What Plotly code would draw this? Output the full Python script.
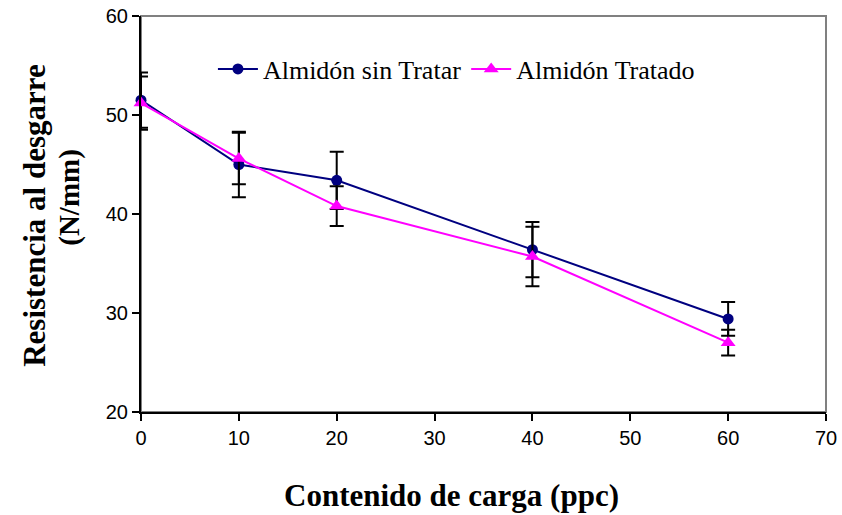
import plotly.graph_objects as go

# Filler content (ppc)
carga = [0, 10, 20, 40, 60]

# Tear resistance (N/mm) and standard deviations
sin_tratar = [51.5, 45.0, 43.4, 36.4, 29.4]
sin_tratar_err = [2.8, 3.3, 2.9, 2.8, 1.7]
tratado = [51.2, 45.6, 40.8, 35.7, 27.0]
tratado_err = [2.7, 2.6, 2.0, 3.0, 1.3]

x_ticks = [0, 10, 20, 30, 40, 50, 60, 70]
y_ticks = [20, 30, 40, 50, 60]

serif = "Liberation Serif, Times New Roman, serif"
sans = "Liberation Sans, Arial, sans-serif"

fig = go.Figure()

fig.add_trace(go.Scatter(
    x=carga, y=sin_tratar, name="Almidón sin Tratar", mode="lines+markers",
    line=dict(color="#000080", width=2),
    marker=dict(symbol="circle", size=11, color="#000080"),
    error_y=dict(type="data", array=sin_tratar_err, visible=True,
                 color="black", thickness=2, width=7),
    cliponaxis=False,
))
fig.add_trace(go.Scatter(
    x=carga, y=tratado, name="Almidón Tratado", mode="lines+markers",
    line=dict(color="#FF00FF", width=2),
    marker=dict(symbol="triangle-up", size=13, color="#FF00FF"),
    error_y=dict(type="data", array=tratado_err, visible=True,
                 color="black", thickness=2, width=7),
    cliponaxis=False,
))

# grey frame around the plot area (top and right edges)
fig.add_shape(type="rect", xref="paper", yref="paper", x0=0, x1=1, y0=0, y1=1,
              line=dict(color="#808080", width=2), layer="below")

fig.update_layout(
    width=842, height=515,
    margin=dict(l=141, r=16, t=16, b=103, autoexpand=False),
    paper_bgcolor="white", plot_bgcolor="white",
    showlegend=True,
    legend=dict(orientation="h", x=0.105, xanchor="left", y=0.866, yanchor="middle",
                font=dict(family=serif, size=26, color="black"),
                bgcolor="rgba(0,0,0,0)", itemwidth=40),
    xaxis=dict(range=[0, 70], tickvals=x_ticks, showgrid=False, zeroline=False,
               automargin=False,
               showline=True, linecolor="black", linewidth=2,
               ticks="outside", ticklen=7, tickwidth=2, tickcolor="black",
               tickfont=dict(family=sans, size=20, color="black")),
    yaxis=dict(range=[20, 60], tickvals=y_ticks, showgrid=False, zeroline=False,
               automargin=False,
               showline=True, linecolor="black", linewidth=2,
               ticks="outside", ticklen=7, tickwidth=2, tickcolor="black",
               tickfont=dict(family=sans, size=20, color="black")),
    annotations=[
        dict(text="<b>Contenido de carga (ppc)</b>", xref="paper", yref="paper",
             x=0.454, y=-0.212, xanchor="center", yanchor="middle", showarrow=False,
             font=dict(family=serif, size=31, color="black")),
        dict(text="<b>Resistencia al desgarre</b>", xref="paper", yref="paper",
             x=-0.155, y=0.495, xanchor="center", yanchor="middle", showarrow=False,
             textangle=-90, font=dict(family=serif, size=31, color="black")),
        dict(text="<b>(N/mm)</b>", xref="paper", yref="paper",
             x=-0.104, y=0.543, xanchor="center", yanchor="middle", showarrow=False,
             textangle=-90, font=dict(family=serif, size=29, color="black")),
    ],
)

fig.write_html("out.html")
